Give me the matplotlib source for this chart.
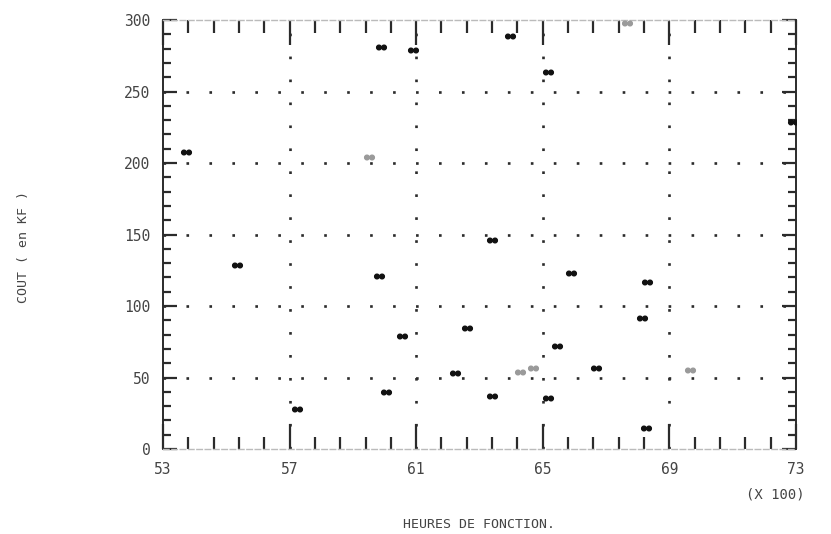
import numpy as np
import matplotlib
matplotlib.use("Agg")
import matplotlib.pyplot as plt
from matplotlib.path import Path
from matplotlib.ticker import MultipleLocator, FixedLocator

# heures de fonction (x 100) et cout (en KF)
heures = [53.73, 55.34, 57.23, 59.82, 59.89, 60.05, 60.55, 60.90,
          62.22, 62.60, 63.40, 63.40, 63.96, 65.16, 65.16, 65.45,
          65.90, 66.68, 68.13, 68.26, 68.30, 72.90]
cout = [208, 129, 28, 121, 281, 40, 79, 279,
        53, 85, 146, 37, 289, 264, 36, 72,
        123, 57, 92, 15, 117, 229]

# points imprimes plus pales
heures_pales = [59.51, 64.28, 64.70, 67.66, 69.65]
cout_pales = [204, 54, 57, 298, 55]

x_ticks = [53, 57, 61, 65, 69, 73]
y_ticks = [0, 50, 100, 150, 200, 250, 300]

ink = "#2b2b2b"
plt.rcParams["font.family"] = ["DejaVu Sans Mono"]

# double point marker, like the printer's "**" glyph
circ = Path.unit_circle()
left = Path(circ.vertices + [-1.1, 0], circ.codes)
right = Path(circ.vertices + [1.1, 0], circ.codes)
double_dot = Path.make_compound_path(left, right)

fig = plt.figure(figsize=(8.31, 5.34), dpi=100)
ax = fig.add_axes([0.196, 0.159, 0.762, 0.8035])

ax.set_xlim(53, 73)
ax.set_ylim(0, 300)

# dotted grid
dots = (0, (1, 7.7))
for gx in [57, 61, 65, 69]:
    ax.axvline(gx, color=ink, lw=1.9, linestyle=dots, zorder=1)
for gy in [50, 100, 150, 200, 250]:
    ax.axhline(gy, color=ink, lw=1.9, linestyle=dots, zorder=1)

ax.plot(heures, cout, linestyle="none", marker=double_dot,
        markersize=7, color="#111111", zorder=3)
ax.plot(heures_pales, cout_pales, linestyle="none", marker=double_dot,
        markersize=7, color="#9a9a9a", zorder=3)

ax.xaxis.set_major_locator(FixedLocator(x_ticks))
ax.xaxis.set_minor_locator(FixedLocator(
    [v for v in np.arange(53, 73.01, 0.8) if min(abs(v - t) for t in x_ticks) > 0.1]))
ax.yaxis.set_major_locator(FixedLocator(y_ticks))
ax.yaxis.set_minor_locator(MultipleLocator(10))

ax.tick_params(which="both", direction="in", top=True, right=True,
               color=ink, width=1.6)
ax.tick_params(axis="x", which="major", length=18, labelsize=10.5,
               labelcolor="#444444", pad=9)
ax.tick_params(axis="x", which="minor", length=9)
ax.tick_params(axis="y", which="major", length=10, labelsize=10.5,
               labelcolor="#444444", pad=9)
ax.tick_params(axis="y", which="minor", length=6)

for side in ["left", "right"]:
    ax.spines[side].set_color(ink)
    ax.spines[side].set_linewidth(1.4)
for side in ["top", "bottom"]:
    ax.spines[side].set_color("#bbbbbb")
    ax.spines[side].set_linewidth(1.0)
    ax.spines[side].set_linestyle((0, (4, 2)))

ax.set_xlabel("HEURES DE FONCTION.", fontsize=9.5, color="#444444", labelpad=30)
ax.set_ylabel("COUT ( en KF )", fontsize=9.5, color="#444444")
ax.yaxis.set_label_coords(-0.21, 0.47)
ax.text(1.013, -0.105, "(X 100)", transform=ax.transAxes, ha="right",
        va="center", fontsize=10, color="#444444")

fig.savefig("out.png", dpi=100)
